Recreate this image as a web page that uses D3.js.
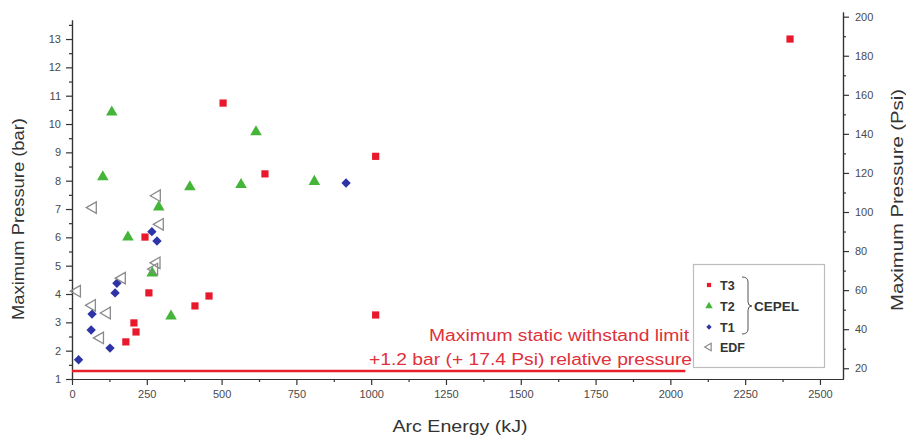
<!DOCTYPE html>
<html>
<head>
<meta charset="utf-8">
<script src="https://cdn.jsdelivr.net/npm/d3@7"></script>
<style>
  html, body { margin: 0; padding: 0; background: #fff; }
  svg { display: block; font-family: "Liberation Sans", Arial, sans-serif; }
</style>
</head>
<body>
<svg id="chart" width="906" height="438"></svg>
<script>
// ---- data ----
const t3Energy   = [2400, 505, 1015, 645, 244, 257, 458, 411, 1015, 207, 214, 180];
const t3Pressure = [13.0, 10.74, 8.86, 8.24, 6.01, 4.04, 3.93, 3.58, 3.26, 2.98, 2.66, 2.31];

const t2Energy   = [133, 103, 615, 394, 565, 810, 290, 187, 268, 331];
const t2Pressure = [10.42, 8.13, 9.72, 7.78, 7.86, 7.97, 7.07, 6.01, 4.74, 3.22];

const t1Energy   = [916, 267, 284, 150, 144, 67, 64, 127, 22];
const t1Pressure = [7.92, 6.2, 5.87, 4.38, 4.04, 3.29, 2.73, 2.09, 1.68];

const edfEnergy   = [70, 284, 294, 283, 275, 167, 17, 67, 117, 94];
const edfPressure = [7.05, 7.47, 6.46, 5.1, 4.88, 4.56, 4.1, 3.6, 3.33, 2.45];

const xTicks = [0, 250, 500, 750, 1000, 1250, 1500, 1750, 2000, 2250, 2500];
const yTicks = [1, 2, 3, 4, 5, 6, 7, 8, 9, 10, 11, 12, 13];
const psiTicks = [20, 40, 60, 80, 100, 120, 140, 160, 180, 200];

const limitBar = 1.28;     // drawn limit line
const limitEnd = 2050;     // kJ where the line stops
const annotation = ["Maximum static withstand limit", "+1.2 bar (+ 17.4 Psi) relative pressure"];
const legendLabels = ["T3", "T2", "T1", "EDF"];
const groupLabel = "CEPEL";
const PSI_PER_BAR = 14.5038;

// ---- layout ----
const svg = d3.select("#chart");
const left = 72, right = 843, bottom = 379;
const pxPerBar = 28.33;

const x = d3.scaleLinear().domain([0, 2577]).range([left, right]);
const yTopBar = 1 + (bottom - 20) / pxPerBar;
const y = d3.scaleLinear().domain([1, yTopBar]).range([bottom, 20]);
const yTopR = 1 + (bottom - 12) / pxPerBar;
const yR = d3.scaleLinear().domain([PSI_PER_BAR, yTopR * PSI_PER_BAR]).range([bottom, 12]);

const axisColor = "#333";
const labelColor = "#4a4a4a";
const fmt = d3.format("d");

function styleAxis(g) {
  g.selectAll("path, line").attr("stroke", axisColor).attr("stroke-width", 1.2);
  g.selectAll("text").attr("fill", labelColor).attr("font-size", 11);
}

// minor ticks
const xMinor = d3.range(125, 2577, 250);
const yMinor = d3.range(1.5, yTopBar, 1);
const psiMinor = d3.range(30, 205, 20);

svg.append("g").attr("transform", `translate(0,${bottom})`)
  .call(d3.axisBottom(x).tickValues(xMinor).tickSize(3).tickFormat("").tickSizeOuter(0))
  .call(styleAxis);
svg.append("g").attr("transform", `translate(0,${bottom})`)
  .call(d3.axisBottom(x).tickValues(xTicks).tickFormat(fmt).tickSize(6).tickPadding(5).tickSizeOuter(0))
  .call(styleAxis);

svg.append("g").attr("transform", `translate(${left},0)`)
  .call(d3.axisLeft(y).tickValues(yMinor).tickSize(3).tickFormat("").tickSizeOuter(0))
  .call(styleAxis);
svg.append("g").attr("transform", `translate(${left},0)`)
  .call(d3.axisLeft(y).tickValues(yTicks).tickFormat(fmt).tickSize(6).tickPadding(5).tickSizeOuter(0))
  .call(styleAxis);

svg.append("g").attr("transform", `translate(${right},0)`)
  .call(d3.axisRight(yR).tickValues(psiMinor).tickSize(3).tickFormat("").tickSizeOuter(0))
  .call(styleAxis);
svg.append("g").attr("transform", `translate(${right},0)`)
  .call(d3.axisRight(yR).tickValues(psiTicks).tickFormat(fmt).tickSize(6).tickPadding(6).tickSizeOuter(0))
  .call(styleAxis);

// axis titles
svg.append("text").attr("x", 460).attr("y", 432).attr("text-anchor", "middle")
  .attr("font-size", 17).attr("fill", "#333")
  .attr("textLength", 135).attr("lengthAdjust", "spacingAndGlyphs")
  .text("Arc Energy (kJ)");
svg.append("text").attr("transform", "translate(24,219) rotate(-90)").attr("text-anchor", "middle")
  .attr("font-size", 17).attr("fill", "#333")
  .attr("textLength", 202).attr("lengthAdjust", "spacingAndGlyphs")
  .text("Maximum Pressure (bar)");
svg.append("text").attr("transform", "translate(903,200) rotate(-90)").attr("text-anchor", "middle")
  .attr("font-size", 16).attr("fill", "#333")
  .attr("textLength", 222).attr("lengthAdjust", "spacingAndGlyphs")
  .text("Maximum Pressure (Psi)");

// limit line
svg.append("line")
  .attr("x1", x(0)).attr("x2", x(limitEnd))
  .attr("y1", y(limitBar)).attr("y2", y(limitBar))
  .attr("stroke", "#e8202c").attr("stroke-width", 2.5);

svg.append("text").attr("x", 689).attr("y", 341).attr("text-anchor", "end")
  .attr("font-size", 16).attr("fill", "#e0303a")
  .attr("textLength", 260).attr("lengthAdjust", "spacingAndGlyphs")
  .text(annotation[0]);
svg.append("text").attr("x", 692).attr("y", 365).attr("text-anchor", "end")
  .attr("font-size", 16).attr("fill", "#e0303a")
  .attr("textLength", 323).attr("lengthAdjust", "spacingAndGlyphs")
  .text(annotation[1]);

// series
const red = "#e8192c", green = "#44b539", blue = "#2e33a6", gray = "#8a8a8a";
const series = [
  { xs: t3Energy, ys: t3Pressure, type: d3.symbolSquare, size: 52, fill: red, stroke: "none", rot: 0 },
  { xs: t2Energy, ys: t2Pressure, type: d3.symbolTriangle, size: 58, fill: green, stroke: "none", rot: 0 },
  { xs: t1Energy, ys: t1Pressure, type: d3.symbolSquare, size: 44, fill: blue, stroke: "none", rot: 45 },
  { xs: edfEnergy, ys: edfPressure, type: d3.symbolTriangle, size: 58, fill: "#fff", stroke: gray, rot: -90 }
];

[1, 0, 2, 3].forEach(i => {
  const s = series[i];
  svg.append("g").selectAll("path").data(d3.range(s.xs.length)).join("path")
    .attr("d", d3.symbol().type(s.type).size(s.size))
    .attr("transform", j => `translate(${x(s.xs[j])},${y(s.ys[j])}) rotate(${s.rot})`)
    .attr("fill", s.fill)
    .attr("fill-opacity", s.stroke === "none" ? 1 : 0)
    .attr("stroke", s.stroke)
    .attr("stroke-width", 1.3);
});

// legend
const lg = svg.append("g");
lg.append("rect").attr("x", 693.5).attr("y", 264.5).attr("width", 131).attr("height", 103)
  .attr("fill", "#fff").attr("stroke", "#bdbdbd").attr("stroke-width", 1.2);
const legendY = [285, 306, 327, 347];
const legendSizes = [18, 24, 14, 24];
legendLabels.forEach((lab, i) => {
  const s = series[i];
  lg.append("path")
    .attr("d", d3.symbol().type(s.type).size(legendSizes[i]))
    .attr("transform", `translate(709,${legendY[i]}) rotate(${s.rot})`)
    .attr("fill", s.fill).attr("fill-opacity", s.stroke === "none" ? 1 : 0)
    .attr("stroke", s.stroke).attr("stroke-width", 1.2);
  lg.append("text").attr("x", 720).attr("y", legendY[i] + 4.5)
    .attr("font-size", 12.5).attr("font-weight", "bold").attr("fill", "#333")
    .text(lab);
});
// bracket
lg.append("path")
  .attr("d", "M742,277 Q748,277 748,282 L748,302 Q748,306 752,306 Q748,306 748,310 L748,329 Q748,334 742,334")
  .attr("fill", "none").attr("stroke", "#555").attr("stroke-width", 1);
lg.append("text").attr("x", 754).attr("y", 311)
  .attr("font-size", 13.5).attr("font-weight", "bold").attr("fill", "#333")
  .text(groupLabel);
</script>
</body>
</html>
